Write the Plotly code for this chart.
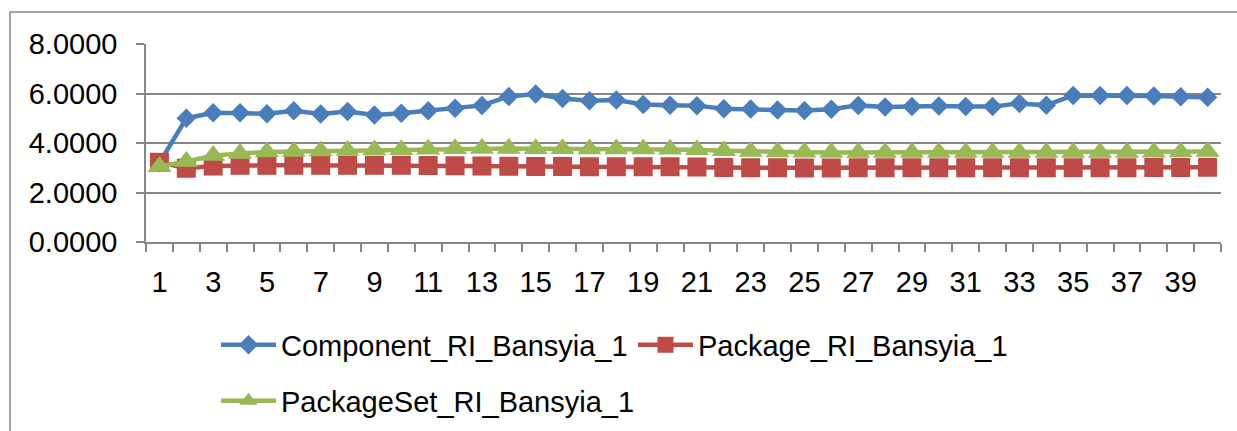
import plotly.graph_objects as go

# Run index (category axis)
runs = list(range(1, 41))
tick_runs = list(range(1, 41, 2))

component_ri = [3.20, 5.00, 5.22, 5.22, 5.18, 5.30, 5.17, 5.27, 5.13, 5.20,
                5.30, 5.40, 5.52, 5.88, 5.98, 5.80, 5.71, 5.74, 5.56, 5.53,
                5.51, 5.38, 5.37, 5.33, 5.31, 5.36, 5.52, 5.45, 5.47, 5.50,
                5.47, 5.47, 5.60, 5.53, 5.92, 5.92, 5.92, 5.90, 5.87, 5.85]

package_ri = [3.22, 2.98, 3.07, 3.10, 3.10, 3.10, 3.10, 3.10, 3.10, 3.10,
              3.09, 3.08, 3.07, 3.06, 3.05, 3.05, 3.04, 3.04, 3.04, 3.04,
              3.03, 3.01, 3.00, 3.00, 2.99, 2.99, 3.00, 3.00, 3.00, 3.00,
              3.00, 3.00, 3.00, 3.00, 3.00, 3.00, 3.00, 3.01, 3.01, 3.02]

packageset_ri = [3.05, 3.25, 3.50, 3.58, 3.64, 3.66, 3.68, 3.70, 3.72, 3.73,
                 3.75, 3.77, 3.78, 3.78, 3.77, 3.77, 3.76, 3.76, 3.76, 3.75,
                 3.73, 3.69, 3.66, 3.64, 3.63, 3.62, 3.62, 3.62, 3.62, 3.62,
                 3.62, 3.62, 3.62, 3.62, 3.62, 3.62, 3.62, 3.63, 3.64, 3.66]

y_ticks = [0, 2, 4, 6, 8]

BLUE = "#4A7EBB"
RED = "#BE4B48"
GREEN = "#98B954"
GRID = "#868686"
FONT = "Liberation Sans, Arial, sans-serif"
FS = 29

fig = go.Figure()
fig.add_trace(go.Scatter(
    x=runs, y=component_ri, name="Component_RI_Bansyia_1", mode="lines+markers",
    line=dict(color=BLUE, width=4.5),
    marker=dict(symbol="diamond", size=15, color=BLUE),
    legend="legend"))
fig.add_trace(go.Scatter(
    x=runs, y=package_ri, name="Package_RI_Bansyia_1", mode="lines+markers",
    line=dict(color=RED, width=4.5),
    marker=dict(symbol="square", size=19, color=RED),
    legend="legend"))
fig.add_trace(go.Scatter(
    x=runs, y=packageset_ri, name="PackageSet_RI_Bansyia_1", mode="lines+markers",
    line=dict(color=GREEN, width=4.5),
    marker=dict(symbol="triangle-up", size=21, color=GREEN),
    legend="legend2"))

W, H = 1237, 431
L, R, T, B = 146, 16, 44, 189
pw, ph = W - L - R, H - T - B

def px_x(p):
    return (p - L) / pw

def px_y(p):
    return (H - B - p) / ph

fig.update_layout(
    width=W, height=H,
    margin=dict(l=L, r=R, t=T, b=B, autoexpand=False),
    paper_bgcolor="white", plot_bgcolor="white",
    font=dict(family=FONT, size=FS, color="black"),
    showlegend=True,
    legend=dict(orientation="h", x=px_x(216), xanchor="left",
                y=px_y(345), yanchor="middle", entrywidth=347, itemwidth=55,
                font=dict(size=FS), bgcolor="rgba(0,0,0,0)"),
    legend2=dict(orientation="h", x=px_x(216), xanchor="left",
                 y=px_y(401), yanchor="middle", itemwidth=55,
                 font=dict(size=FS), bgcolor="rgba(0,0,0,0)"),
    xaxis=dict(
        range=[0.5, 40.5], tickmode="array", tickvals=tick_runs,
        ticktext=[str(v) for v in tick_runs], ticks="",
        showgrid=False, zeroline=False,
        showline=True, linecolor=GRID, linewidth=1.5,
        ticklabelstandoff=13,
        minor=dict(tick0=0.5, dtick=1, ticks="outside", ticklen=8,
                   tickcolor=GRID, tickwidth=1.5, showgrid=False),
    ),
    yaxis=dict(
        range=[0, 8], tickmode="array", tickvals=y_ticks,
        ticktext=[f"{v:.4f}" for v in y_ticks],
        ticks="outside", ticklen=8, tickcolor=GRID, tickwidth=1.5,
        showgrid=True, gridcolor=GRID, gridwidth=1.5, zeroline=False,
        showline=True, linecolor=GRID, linewidth=1.5,
        ticklabelstandoff=13,
    ),
)

# Chart-area frame
fig.add_shape(type="rect", xref="paper", yref="paper",
              x0=px_x(10), x1=px_x(1245), y0=px_y(445), y1=px_y(12),
              line=dict(color=GRID, width=1.5), fillcolor="rgba(0,0,0,0)",
              layer="below")

fig.write_html("out.html")
